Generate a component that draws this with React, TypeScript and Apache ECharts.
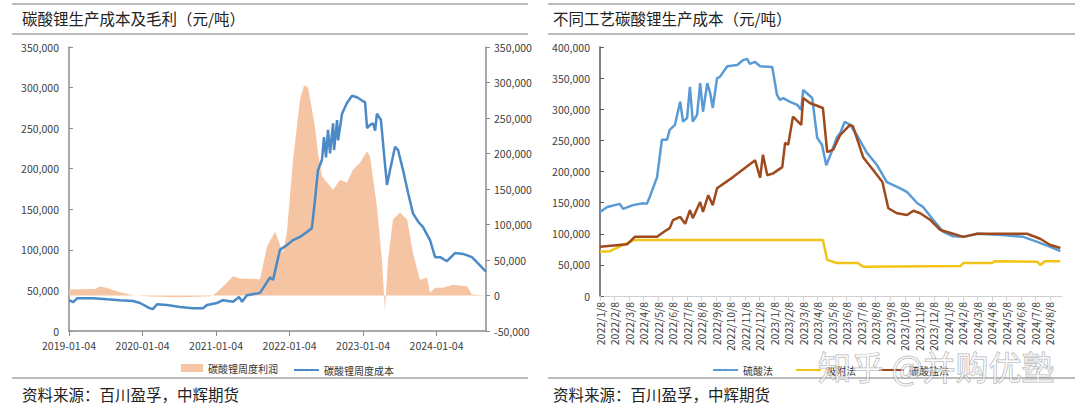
import React, { useEffect, useRef } from 'react';
import * as echarts from 'echarts';

const FONT = '"Noto Sans CJK SC", "Noto Sans", sans-serif';

// ---------- Left chart ----------
const LEFT_TITLE = '碳酸锂生产成本及毛利（元/吨）';
const LEFT_X_LABELS = ['2019-01-04', '2020-01-04', '2021-01-04', '2022-01-04', '2023-01-04', '2024-01-04'];
const LEFT_START = '2019-01-04';
const LEFT_END = '2024-09-06';

const COST_NAME = '碳酸锂周度成本';
const COST_DATES = [
  '2019-01-04', '2019-01-25', '2019-02-15', '2019-05-03', '2019-07-12', '2019-09-14', '2019-11-18', '2019-12-23',
  '2020-02-10', '2020-02-25', '2020-03-16', '2020-05-05', '2020-07-09', '2020-09-11', '2020-10-31', '2020-11-20',
  '2021-01-08', '2021-02-07', '2021-03-29', '2021-04-28', '2021-05-13', '2021-06-06', '2021-08-10', '2021-09-29',
  '2021-10-14', '2021-11-17', '2021-12-22', '2022-01-21', '2022-02-25', '2022-04-01', '2022-04-25', '2022-05-10',
  '2022-05-25', '2022-06-14', '2022-06-24', '2022-07-04', '2022-07-14', '2022-07-24', '2022-08-08', '2022-08-13',
  '2022-08-28', '2022-09-02', '2022-09-22', '2022-10-16', '2022-11-10', '2022-12-05', '2022-12-30', '2023-01-14',
  '2023-01-24', '2023-02-08', '2023-02-23', '2023-03-05', '2023-03-14', '2023-04-03', '2023-04-18', '2023-05-03',
  '2023-05-18', '2023-06-12', '2023-06-27', '2023-07-22', '2023-08-16', '2023-09-09', '2023-10-04', '2023-10-29',
  '2023-12-03', '2023-12-28', '2024-01-22', '2024-02-25', '2024-04-05', '2024-05-15', '2024-06-28', '2024-08-07',
  '2024-09-06',
];
const COST_VALUES = [
  38000, 35500, 40500, 40500, 39000, 38000, 37000, 34500,
  28000, 27000, 33000, 32000, 29500, 28000, 28000, 32000,
  34500, 38000, 36000, 42000, 36000, 44000, 47000, 66000,
  63000, 100000, 106000, 112000, 116000, 122000, 127000, 161000,
  198000, 211000, 239000, 214000, 248000, 219000, 256000, 223000,
  260000, 235000, 268000, 281000, 290000, 288000, 284000, 282000,
  250000, 254000, 256000, 247000, 268000, 260000, 219000, 180000,
  198000, 227000, 223000, 198000, 170000, 145000, 135000, 128000,
  112000, 91000, 91000, 86000, 96000, 95000, 91000, 81000,
  73000,
];

const PROFIT_NAME = '碳酸锂周度利润';
const PROFIT_DATES = [
  '2019-01-04', '2019-05-13', '2019-06-07', '2019-07-12', '2019-09-14', '2019-11-18', '2020-02-10', '2020-07-09',
  '2020-12-05', '2020-12-20', '2021-02-17', '2021-03-29', '2021-05-03', '2021-08-10', '2021-09-14', '2021-10-24',
  '2021-12-02', '2021-12-22', '2022-01-21', '2022-02-25', '2022-03-17', '2022-04-06', '2022-04-25', '2022-05-10',
  '2022-05-25', '2022-06-14', '2022-08-08', '2022-09-12', '2022-10-16', '2022-11-15', '2022-12-20', '2023-01-24',
  '2023-02-08', '2023-03-14', '2023-04-08', '2023-04-23', '2023-05-08', '2023-06-02', '2023-07-07', '2023-08-11',
  '2023-09-09', '2023-10-14', '2023-11-18', '2023-12-03', '2023-12-28', '2024-02-05', '2024-03-26', '2024-06-04',
  '2024-06-28', '2024-09-06',
];
const PROFIT_VALUES = [
  8500, 9000, 12700, 10500, 4500, 500, -1500, -2500,
  -1000, 0, 15000, 27000, 24000, 23000, 69000, 90000,
  60000, 89000, 191000, 276000, 296000, 293000, 262000, 238000,
  201000, 168000, 149000, 163000, 159000, 177000, 187000, 203000,
  196000, 125000, 50000, -22000, 50000, 107000, 117000, 107000,
  60000, 22000, 25000, 4000, 11000, 11000, 15000, 13000,
  1500, 0,
];

// ---------- Right chart ----------
const RIGHT_TITLE = '不同工艺碳酸锂生产成本（元/吨）';
const RIGHT_X_LABELS = [
  '2022/1/8', '2022/2/8', '2022/3/8', '2022/4/8', '2022/5/8', '2022/6/8', '2022/7/8', '2022/8/8',
  '2022/9/8', '2022/10/8', '2022/11/8', '2022/12/8', '2023/1/8', '2023/2/8', '2023/3/8', '2023/4/8',
  '2023/5/8', '2023/6/8', '2023/7/8', '2023/8/8', '2023/9/8', '2023/10/8', '2023/11/8', '2023/12/8',
  '2024/1/8', '2024/2/8', '2024/3/8', '2024/4/8', '2024/5/8', '2024/6/8', '2024/7/8', '2024/8/8',
];
const RIGHT_END = '2024-09-03';

const SULFURIC_NAME = '硫酸法';
const SULFURIC_DATES = [
  '2022-01-08', '2022-01-23', '2022-02-19', '2022-02-26', '2022-03-16', '2022-04-07', '2022-04-15', '2022-04-21',
  '2022-05-06', '2022-05-16', '2022-05-27', '2022-06-02', '2022-06-13', '2022-06-24', '2022-06-30', '2022-07-08',
  '2022-07-14', '2022-07-20', '2022-07-29', '2022-08-05', '2022-08-11', '2022-08-20', '2022-08-26', '2022-09-01',
  '2022-09-10', '2022-09-16', '2022-10-01', '2022-10-22', '2022-11-04', '2022-11-12', '2022-11-18', '2022-11-29',
  '2022-12-09', '2023-01-04', '2023-01-14', '2023-01-20', '2023-01-27', '2023-02-11', '2023-02-26', '2023-03-04',
  '2023-03-08', '2023-03-27', '2023-04-07', '2023-04-17', '2023-04-26', '2023-05-04', '2023-05-18', '2023-05-25',
  '2023-06-04', '2023-06-15', '2023-06-29', '2023-07-20', '2023-08-11', '2023-09-01', '2023-09-29', '2023-10-13',
  '2023-11-04', '2023-11-16', '2023-12-07', '2023-12-28', '2024-01-18', '2024-02-09', '2024-03-08', '2024-05-01',
  '2024-06-13', '2024-07-12', '2024-08-09', '2024-08-30',
];
const SULFURIC_VALUES = [
  135000, 143000, 148000, 140000, 146000, 149000, 148000, 159000,
  191000, 251000, 251000, 267000, 275000, 312000, 280000, 286000,
  336000, 280000, 291000, 342000, 296000, 342000, 326000, 302000,
  350000, 352000, 369000, 371000, 379000, 381000, 373000, 376000,
  369000, 368000, 323000, 315000, 318000, 312000, 307000, 299000,
  331000, 318000, 254000, 243000, 210000, 226000, 255000, 262000,
  280000, 275000, 259000, 230000, 210000, 183000, 173000, 167000,
  149000, 143000, 122000, 103000, 96000, 95000, 100000, 98000,
  95000, 87000, 79000, 72000,
];

const ADSORPTION_NAME = '吸附法';
const ADSORPTION_DATES = [
  '2022-01-08', '2022-01-29', '2022-02-26', '2022-03-20', '2023-04-19', '2023-04-28', '2023-05-18', '2023-07-01',
  '2023-07-12', '2024-02-03', '2024-02-09', '2024-04-09', '2024-04-15', '2024-07-12', '2024-07-18', '2024-07-29',
  '2024-08-30',
];
const ADSORPTION_VALUES = [
  71000, 72000, 82000, 90000, 90000, 58000, 53000, 53000,
  47000, 48000, 53000, 53000, 56000, 55000, 50000, 56000,
  56000,
];

const SULFATE_NAME = '硫酸盐法';
const SULFATE_DATES = [
  '2022-01-08', '2022-03-04', '2022-03-20', '2022-05-06', '2022-05-22', '2022-06-02', '2022-06-09', '2022-06-24',
  '2022-07-04', '2022-07-14', '2022-07-20', '2022-08-05', '2022-08-11', '2022-08-22', '2022-09-01', '2022-09-10',
  '2022-10-13', '2022-11-29', '2022-12-09', '2022-12-15', '2022-12-24', '2023-01-06', '2023-01-25', '2023-01-31',
  '2023-02-07', '2023-02-17', '2023-03-04', '2023-03-08', '2023-03-22', '2023-04-19', '2023-04-28', '2023-05-10',
  '2023-05-25', '2023-06-15', '2023-06-21', '2023-07-12', '2023-08-03', '2023-08-22', '2023-09-04', '2023-09-22',
  '2023-10-13', '2023-10-26', '2023-11-10', '2023-12-01', '2023-12-22', '2024-01-18', '2024-02-09', '2024-03-08',
  '2024-06-21', '2024-07-18', '2024-08-09', '2024-08-30',
];
const SULFATE_VALUES = [
  79000, 83000, 95000, 95000, 104000, 109000, 122000, 127000,
  116000, 138000, 125000, 151000, 135000, 162000, 146000, 173000,
  191000, 218000, 190000, 227000, 194000, 197000, 207000, 246000,
  243000, 288000, 275000, 318000, 310000, 302000, 231000, 235000,
  259000, 275000, 273000, 223000, 202000, 183000, 141000, 133000,
  130000, 137000, 133000, 122000, 106000, 100000, 95000, 100000,
  100000, 92000, 82000, 77000,
];

const SOURCE_TEXT = '资料来源：百川盈孚，中辉期货';
const WATERMARK = '知乎 @并购优塾';

// ---------- helpers ----------
const DAY = 86400000;
const parseDay = (d: string) => Date.parse(d + 'T00:00:00Z');
const yearsSince = (d: string) => (parseDay(d) - parseDay(LEFT_START)) / (365.25 * DAY);
const monthsSince = (d: string) => {
  const [y, m, dd] = d.split('-').map(Number);
  return (y - 2022) * 12 + (m - 1) + (dd - 8) / 30.44;
};
const fmtNum = (v: number) => v.toLocaleString('en-US');
const pairs = (dates: string[], values: number[], f: (d: string) => number) => dates.map((d, i) => [f(d), values[i]]);
const isWhole = (v: number) => Math.abs(v - Math.round(v)) < 1e-6;

const LABEL_COLOR = '#404040';
const AXIS_COLOR = '#8c8c8c';
const RULE_COLOR = '#a6a6a6';
const LEGEND_TEXT = { fontSize: 10, color: '#333', fontFamily: FONT };

export default function App() {
  const ref = useRef<HTMLDivElement>(null);
  useEffect(() => {
    if (!ref.current) return;
    const chart = echarts.init(ref.current, null, { renderer: 'svg' });
    const hline = (x1: number, x2: number, y: number) => ({
      type: 'line',
      shape: { x1, y1: y, x2, y2: y },
      style: { stroke: RULE_COLOR, lineWidth: 1.5 },
      silent: true,
    });
    const text = (x: number, y: number, t: string, size: number) => ({
      type: 'text',
      x,
      y,
      style: { text: t, fontSize: size, fill: '#222', fontFamily: FONT, textVerticalAlign: 'middle' },
      silent: true,
    });
    const option: any = {
      animation: false,
      textStyle: { fontFamily: FONT },
      graphic: [
        hline(12, 528, 4),
        hline(12, 528, 34),
        hline(12, 528, 378),
        hline(548, 1075, 4),
        hline(548, 1075, 34),
        hline(548, 1075, 378),
        text(22, 18, LEFT_TITLE, 15.5),
        text(553, 18, RIGHT_TITLE, 15.5),
        text(22, 394, SOURCE_TEXT, 15.5),
        text(553, 394, SOURCE_TEXT, 15.5),
        {
          type: 'text',
          x: 818,
          y: 366,
          z: 100,
          style: {
            text: WATERMARK,
            fontSize: 33,
            fontFamily: FONT,
            fill: 'rgba(255,255,255,0.55)',
            stroke: 'rgba(110,110,110,0.55)',
            lineWidth: 1,
            textVerticalAlign: 'middle',
          },
          silent: true,
        },
      ],
      legend: [
        {
          left: 176,
          top: 358,
          itemWidth: 22,
          itemHeight: 8,
          textStyle: LEGEND_TEXT,
          data: [{ name: PROFIT_NAME, icon: 'rect' }],
        },
        {
          left: 288,
          top: 360,
          itemWidth: 25,
          itemHeight: 3,
          textStyle: LEGEND_TEXT,
          data: [COST_NAME],
        },
        {
          left: 707,
          top: 360,
          itemWidth: 25,
          itemHeight: 3,
          itemGap: 22,
          textStyle: LEGEND_TEXT,
          data: [SULFURIC_NAME, ADSORPTION_NAME, SULFATE_NAME],
        },
      ],
      grid: [
        { left: 69, right: 594, top: 47, bottom: 80 },
        { left: 600, right: 18, top: 47, bottom: 115 },
      ],
      xAxis: [
        {
          gridIndex: 0,
          type: 'value',
          min: 0,
          max: yearsSince(LEFT_END),
          interval: 1,
          axisLine: { onZero: false, lineStyle: { color: AXIS_COLOR, width: 1.5 } },
          axisTick: { show: true, lineStyle: { color: AXIS_COLOR } },
          splitLine: { show: false },
          axisLabel: {
            color: LABEL_COLOR,
            fontSize: 10.5,
            margin: 9,
            showMaxLabel: false,
            formatter: (v: number) => (isWhole(v) ? LEFT_X_LABELS[Math.round(v)] ?? '' : ''),
          },
        },
        {
          gridIndex: 1,
          type: 'value',
          min: 0,
          max: monthsSince(RIGHT_END),
          interval: 1,
          axisLine: { onZero: false, lineStyle: { color: '#d0d0d0', width: 1 } },
          axisTick: { show: true, lineStyle: { color: '#d0d0d0' } },
          splitLine: { show: false },
          axisLabel: {
            color: LABEL_COLOR,
            fontSize: 10.5,
            rotate: 90,
            margin: 6,
            showMaxLabel: false,
            formatter: (v: number) => (isWhole(v) ? RIGHT_X_LABELS[Math.round(v)] ?? '' : ''),
          },
        },
      ],
      yAxis: [
        {
          gridIndex: 0,
          type: 'value',
          position: 'left',
          min: 0,
          max: 350000,
          interval: 50000,
          axisLine: { show: true, lineStyle: { color: AXIS_COLOR, width: 1.5 } },
          axisTick: { show: true, inside: true, length: 4, lineStyle: { color: AXIS_COLOR } },
          splitLine: { show: false },
          axisLabel: { color: LABEL_COLOR, fontSize: 10.5, margin: 10, formatter: fmtNum },
        },
        {
          gridIndex: 0,
          type: 'value',
          position: 'right',
          min: -50000,
          max: 350000,
          interval: 50000,
          axisLine: { show: true, lineStyle: { color: AXIS_COLOR, width: 1.5 } },
          axisTick: { show: true, length: 4, lineStyle: { color: AXIS_COLOR } },
          splitLine: { show: false },
          axisLabel: { color: LABEL_COLOR, fontSize: 10.5, margin: 8, formatter: fmtNum },
        },
        {
          gridIndex: 1,
          type: 'value',
          position: 'left',
          min: 0,
          max: 400000,
          interval: 50000,
          axisLine: { show: true, lineStyle: { color: '#595959', width: 1.5 } },
          axisTick: { show: true, inside: true, length: 4, lineStyle: { color: '#595959' } },
          splitLine: { show: false },
          axisLabel: { color: LABEL_COLOR, fontSize: 10.5, margin: 10, formatter: fmtNum },
        },
      ],
      series: [
        {
          name: PROFIT_NAME,
          type: 'line',
          xAxisIndex: 0,
          yAxisIndex: 1,
          symbol: 'none',
          lineStyle: { width: 0 },
          itemStyle: { color: '#F5C4A2' },
          areaStyle: { color: '#F5C4A2', opacity: 1 },
          data: pairs(PROFIT_DATES, PROFIT_VALUES, yearsSince),
        },
        {
          name: COST_NAME,
          type: 'line',
          xAxisIndex: 0,
          yAxisIndex: 0,
          symbol: 'none',
          lineStyle: { width: 2.5, color: '#4A8AC6' },
          itemStyle: { color: '#4A8AC6' },
          data: pairs(COST_DATES, COST_VALUES, yearsSince),
        },
        {
          name: SULFURIC_NAME,
          type: 'line',
          xAxisIndex: 1,
          yAxisIndex: 2,
          symbol: 'none',
          lineStyle: { width: 2.5, color: '#5B9BD5' },
          itemStyle: { color: '#5B9BD5' },
          data: pairs(SULFURIC_DATES, SULFURIC_VALUES, monthsSince),
        },
        {
          name: ADSORPTION_NAME,
          type: 'line',
          xAxisIndex: 1,
          yAxisIndex: 2,
          symbol: 'none',
          lineStyle: { width: 2.5, color: '#F2C417' },
          itemStyle: { color: '#F2C417' },
          data: pairs(ADSORPTION_DATES, ADSORPTION_VALUES, monthsSince),
        },
        {
          name: SULFATE_NAME,
          type: 'line',
          xAxisIndex: 1,
          yAxisIndex: 2,
          symbol: 'none',
          lineStyle: { width: 2.5, color: '#9E4A1C' },
          itemStyle: { color: '#9E4A1C' },
          data: pairs(SULFATE_DATES, SULFATE_VALUES, monthsSince),
        },
      ],
    };
    chart.setOption(option);
    return () => chart.dispose();
  }, []);
  return (
    <div
      ref={ref}
      style={{ position: 'absolute', left: 0, top: 0, width: 1080, height: 411, background: '#fff' }}
    />
  );
}
